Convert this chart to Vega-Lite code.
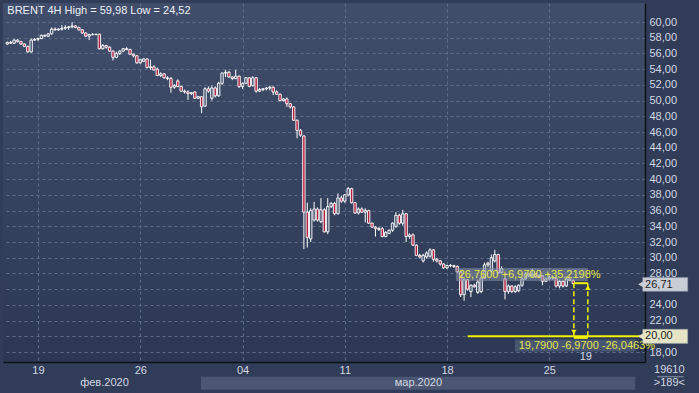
{
  "$schema": "https://vega.github.io/schema/vega-lite/v6.json",
  "width": 642,
  "height": 359,
  "autosize": {"type": "none"},
  "padding": {"left": 3, "top": 3, "right": 54, "bottom": 31},
  "background": "#303c58",
  "config": {
    "view": {"stroke": null, "fill": {"gradient": "linear", "x1": 0, "y1": 0, "x2": 0, "y2": 1, "stops": [{"offset": 0, "color": "#404e6b"}, {"offset": 1, "color": "#2c3853"}]}},
    "axis": {"labelFont": "Liberation Sans Narrow, Arial Narrow, Liberation Sans", "labelFontSize": 11, "labelColor": "#d3d8e2", "labelOverlap": false, "title": null, "ticks": false, "grid": true, "gridColor": "#5f6d8a", "gridDash": [3, 3], "gridWidth": 1, "domainColor": "#0c1018", "domainWidth": 1.5, "zindex": 0},
    "text": {"font": "Liberation Sans Narrow, Arial Narrow, Liberation Sans", "fontSize": 11}
  },
  "layer": [
    {
      "data": {"values": [{"a": 56.8, "b": 184.2, "lo": 13.2, "hi": 14.85}]},
      "mark": {"type": "rect", "fill": "#4a5672", "clip": false},
      "encoding": {
        "x": {"field": "a", "type": "quantitative", "scale": {"domain": [0.2, 185.6], "nice": false, "zero": false}, "axis": {"orient": "bottom", "values": [9, 39, 69, 99, 129, 159], "tickCount": 40, "labelExpr": "datum.value == 9 ? '19' : datum.value == 39 ? '26' : datum.value == 69 ? '04' : datum.value == 99 ? '11' : datum.value == 129 ? '18' : '25'", "labelPadding": 2, "labelBaseline": "top"}},
        "x2": {"field": "b"},
        "y": {"field": "lo", "type": "quantitative", "scale": {"domain": [16.73, 62.42], "nice": false, "zero": false}, "axis": {"orient": "right", "values": [18, 20, 22, 24, 26, 28, 30, 32, 34, 36, 38, 40, 42, 44, 46, 48, 50, 52, 54, 56, 58, 60], "tickCount": 60, "labelExpr": "(datum.value == 26 || datum.value == 20) ? '' : replace(format(datum.value, '.2f'), '.', ',')", "labelPadding": 4, "labelAlign": "left", "labelBaseline": "middle"}},
        "y2": {"field": "hi"}
      }
    },
    {
      "data": {"name": "candles", "values": [
{"i":0,"o":57.2,"h":57.5,"l":57.1,"c":57.4},{"i":1,"o":57.4,"h":57.6,"l":57.2,"c":57.3},{"i":2,"o":57.3,"h":57.8,"l":57.2,"c":57.7},{"i":3,"o":57.7,"h":57.8,"l":57.4,"c":57.5},{"i":4,"o":57.5,"h":57.6,"l":57.1,"c":57.2},{"i":5,"o":57.2,"h":57.3,"l":56.8,"c":56.9},{"i":6,"o":56.9,"h":57.0,"l":56.1,"c":56.2},{"i":7,"o":56.2,"h":57.9,"l":56.1,"c":57.7},{"i":8,"o":57.7,"h":57.95,"l":57.6,"c":57.8},{"i":9,"o":57.8,"h":58.0,"l":57.6,"c":57.9},
{"i":10,"o":57.9,"h":58.4,"l":57.8,"c":58.3},{"i":11,"o":58.3,"h":58.4,"l":58.1,"c":58.2},{"i":12,"o":58.2,"h":58.6,"l":58.1,"c":58.5},{"i":13,"o":58.5,"h":59.3,"l":58.4,"c":59.1},{"i":14,"o":59.1,"h":59.3,"l":58.9,"c":59.0},{"i":15,"o":59.0,"h":59.2,"l":58.9,"c":59.1},{"i":16,"o":59.1,"h":59.6,"l":58.9,"c":59.2},{"i":17,"o":59.2,"h":59.6,"l":59.0,"c":59.3},{"i":18,"o":59.3,"h":59.5,"l":59.0,"c":59.4},{"i":19,"o":59.4,"h":59.98,"l":59.2,"c":59.5},
{"i":20,"o":59.5,"h":59.6,"l":59.2,"c":59.3},{"i":21,"o":59.3,"h":59.4,"l":58.9,"c":59.0},{"i":22,"o":59.0,"h":59.1,"l":58.5,"c":58.6},{"i":23,"o":58.6,"h":58.7,"l":58.1,"c":58.2},{"i":24,"o":58.2,"h":58.5,"l":57.7,"c":58.4},{"i":25,"o":58.4,"h":58.6,"l":58.3,"c":58.4},{"i":26,"o":58.4,"h":58.5,"l":58.3,"c":58.45},{"i":27,"o":58.45,"h":58.5,"l":56.5,"c":56.6},{"i":28,"o":56.6,"h":57.2,"l":56.5,"c":57.0},{"i":29,"o":57.0,"h":57.1,"l":56.6,"c":56.8},
{"i":30,"o":56.8,"h":56.9,"l":56.2,"c":56.3},{"i":31,"o":56.3,"h":56.4,"l":55.1,"c":55.5},{"i":32,"o":55.5,"h":56.2,"l":55.4,"c":56.0},{"i":33,"o":56.0,"h":56.4,"l":55.8,"c":56.3},{"i":34,"o":56.3,"h":56.7,"l":56.2,"c":56.6},{"i":35,"o":56.6,"h":56.8,"l":56.4,"c":56.5},{"i":36,"o":56.5,"h":56.6,"l":55.8,"c":55.9},{"i":37,"o":55.9,"h":56.0,"l":55.5,"c":55.7},{"i":38,"o":55.7,"h":55.8,"l":54.7,"c":54.8},{"i":39,"o":54.8,"h":55.3,"l":54.7,"c":55.2},
{"i":40,"o":55.0,"h":55.4,"l":54.9,"c":55.3},{"i":41,"o":55.3,"h":55.4,"l":54.1,"c":54.2},{"i":42,"o":54.2,"h":55.2,"l":53.9,"c":54.3},{"i":43,"o":54.3,"h":54.5,"l":53.8,"c":53.9},{"i":44,"o":54.0,"h":54.2,"l":53.1,"c":53.2},{"i":45,"o":53.2,"h":53.6,"l":53.0,"c":53.4},{"i":46,"o":53.4,"h":53.5,"l":52.8,"c":52.9},{"i":47,"o":52.9,"h":53.1,"l":52.6,"c":52.8},{"i":48,"o":52.8,"h":53.0,"l":51.0,"c":51.7},{"i":49,"o":51.7,"h":52.1,"l":51.5,"c":51.9},
{"i":50,"o":52.5,"h":52.7,"l":51.7,"c":51.8},{"i":51,"o":51.8,"h":51.9,"l":51.1,"c":51.2},{"i":52,"o":51.2,"h":51.4,"l":50.9,"c":51.1},{"i":53,"o":51.1,"h":51.3,"l":50.1,"c":50.9},{"i":54,"o":50.9,"h":51.1,"l":50.7,"c":51.0},{"i":55,"o":51.1,"h":51.2,"l":50.2,"c":50.3},{"i":56,"o":50.3,"h":50.6,"l":50.2,"c":50.5},{"i":57,"o":50.5,"h":50.6,"l":48.4,"c":49.2},{"i":58,"o":49.3,"h":51.7,"l":49.2,"c":51.5},{"i":59,"o":51.5,"h":51.8,"l":51.0,"c":51.2},
{"i":60,"o":50.3,"h":51.9,"l":50.0,"c":51.6},{"i":61,"o":51.6,"h":51.8,"l":50.4,"c":50.6},{"i":62,"o":50.6,"h":52.4,"l":50.5,"c":52.2},{"i":63,"o":52.2,"h":53.6,"l":52.0,"c":53.5},{"i":64,"o":53.5,"h":53.9,"l":53.0,"c":53.6},{"i":65,"o":53.6,"h":53.8,"l":52.9,"c":53.0},{"i":66,"o":53.0,"h":53.1,"l":52.6,"c":52.8},{"i":67,"o":52.8,"h":53.9,"l":52.7,"c":53.1},{"i":68,"o":53.1,"h":53.2,"l":51.6,"c":51.8},{"i":69,"o":51.8,"h":52.3,"l":51.5,"c":52.2},
{"i":70,"o":52.2,"h":53.0,"l":52.1,"c":52.9},{"i":71,"o":52.9,"h":53.0,"l":51.7,"c":51.8},{"i":72,"o":51.9,"h":53.1,"l":51.8,"c":52.9},{"i":73,"o":52.9,"h":53.0,"l":51.0,"c":51.2},{"i":74,"o":51.2,"h":51.6,"l":51.1,"c":51.4},{"i":75,"o":51.4,"h":51.6,"l":51.2,"c":51.5},{"i":76,"o":51.5,"h":51.7,"l":51.3,"c":51.6},{"i":77,"o":51.6,"h":51.9,"l":51.3,"c":51.7},{"i":78,"o":51.7,"h":51.8,"l":50.7,"c":51.1},{"i":79,"o":51.1,"h":51.3,"l":50.7,"c":50.8},
{"i":80,"o":50.8,"h":50.9,"l":49.9,"c":50.0},{"i":81,"o":50.0,"h":50.3,"l":49.9,"c":50.2},{"i":82,"o":50.2,"h":50.4,"l":49.2,"c":49.6},{"i":83,"o":49.6,"h":49.7,"l":49.0,"c":49.2},{"i":84,"o":49.2,"h":49.3,"l":47.4,"c":47.5},{"i":85,"o":47.5,"h":47.6,"l":45.2,"c":46.2},{"i":86,"o":46.2,"h":46.4,"l":45.4,"c":45.6},{"i":87,"o":45.5,"h":45.6,"l":31.1,"c":35.8},{"i":88,"o":35.8,"h":37.0,"l":31.3,"c":32.6},{"i":89,"o":32.4,"h":36.3,"l":32.0,"c":36.0},
{"i":90,"o":34.8,"h":37.1,"l":34.6,"c":36.2},{"i":91,"o":36.2,"h":36.4,"l":34.6,"c":34.8},{"i":92,"o":34.6,"h":37.6,"l":34.4,"c":36.1},{"i":93,"o":36.1,"h":36.3,"l":33.2,"c":33.3},{"i":94,"o":33.3,"h":37.6,"l":33.0,"c":36.5},{"i":95,"o":36.5,"h":37.1,"l":36.3,"c":36.9},{"i":96,"o":36.9,"h":37.1,"l":35.4,"c":35.6},{"i":97,"o":35.6,"h":38.2,"l":35.5,"c":37.6},{"i":98,"o":37.6,"h":37.9,"l":37.0,"c":37.2},{"i":99,"o":37.2,"h":38.1,"l":37.0,"c":38.0},
{"i":100,"o":38.0,"h":39.0,"l":37.8,"c":38.8},{"i":101,"o":38.8,"h":38.9,"l":36.9,"c":37.0},{"i":102,"o":37.0,"h":37.1,"l":35.6,"c":35.7},{"i":103,"o":35.7,"h":36.4,"l":35.5,"c":36.2},{"i":104,"o":36.2,"h":36.4,"l":35.7,"c":35.8},{"i":105,"o":35.8,"h":36.3,"l":34.5,"c":36.0},{"i":106,"o":36.0,"h":36.1,"l":34.3,"c":34.4},{"i":107,"o":34.4,"h":34.5,"l":33.8,"c":33.9},{"i":108,"o":33.9,"h":34.0,"l":32.7,"c":33.7},{"i":109,"o":33.7,"h":33.9,"l":33.4,"c":33.6},
{"i":110,"o":33.7,"h":33.9,"l":32.6,"c":32.7},{"i":111,"o":32.7,"h":33.4,"l":32.6,"c":33.2},{"i":112,"o":33.1,"h":33.6,"l":33.0,"c":33.5},{"i":113,"o":33.5,"h":34.5,"l":33.3,"c":34.4},{"i":114,"o":34.0,"h":35.8,"l":33.8,"c":35.4},{"i":115,"o":35.4,"h":35.6,"l":34.2,"c":34.4},{"i":116,"o":34.4,"h":36.1,"l":34.1,"c":35.6},{"i":117,"o":35.6,"h":35.7,"l":32.0,"c":32.7},{"i":118,"o":32.7,"h":33.1,"l":32.4,"c":32.9},{"i":119,"o":32.9,"h":33.1,"l":31.5,"c":31.6},
{"i":120,"o":31.6,"h":31.7,"l":30.2,"c":30.3},{"i":121,"o":30.3,"h":30.5,"l":29.9,"c":30.1},{"i":122,"o":29.6,"h":30.5,"l":29.4,"c":30.3},{"i":123,"o":30.1,"h":30.8,"l":29.9,"c":30.6},{"i":124,"o":30.2,"h":31.2,"l":30.0,"c":31.0},{"i":125,"o":31.0,"h":31.1,"l":29.5,"c":29.8},{"i":126,"o":29.8,"h":30.0,"l":29.4,"c":29.6},{"i":127,"o":29.6,"h":29.7,"l":29.0,"c":29.2},{"i":128,"o":29.2,"h":29.3,"l":28.6,"c":28.7},{"i":129,"o":28.7,"h":29.1,"l":28.6,"c":29.0},
{"i":130,"o":29.0,"h":29.2,"l":28.8,"c":29.0},{"i":131,"o":29.0,"h":29.1,"l":28.7,"c":28.9},{"i":132,"o":28.9,"h":29.0,"l":28.1,"c":28.2},{"i":133,"o":28.2,"h":28.3,"l":25.0,"c":25.3},{"i":134,"o":25.3,"h":27.4,"l":24.52,"c":27.2},{"i":135,"o":27.2,"h":27.3,"l":25.8,"c":26.0},{"i":136,"o":25.7,"h":26.6,"l":25.0,"c":26.5},{"i":137,"o":26.5,"h":26.7,"l":26.2,"c":26.3},{"i":138,"o":25.6,"h":27.2,"l":25.4,"c":26.9},{"i":139,"o":25.7,"h":27.6,"l":25.5,"c":27.4},
{"i":140,"o":27.4,"h":29.4,"l":27.3,"c":29.1},{"i":141,"o":29.1,"h":29.5,"l":28.8,"c":29.3},{"i":142,"o":28.3,"h":30.4,"l":28.1,"c":30.0},{"i":143,"o":29.6,"h":31.0,"l":29.4,"c":30.4},{"i":144,"o":30.4,"h":30.5,"l":28.0,"c":28.1},{"i":145,"o":28.1,"h":28.9,"l":28.0,"c":28.6},{"i":146,"o":27.3,"h":27.6,"l":24.7,"c":25.7},{"i":147,"o":25.7,"h":26.6,"l":25.4,"c":26.4},{"i":148,"o":26.4,"h":26.5,"l":25.5,"c":25.7},{"i":149,"o":25.7,"h":26.5,"l":25.5,"c":26.3},
{"i":150,"o":25.8,"h":26.6,"l":25.6,"c":26.5},{"i":151,"o":26.5,"h":27.5,"l":26.3,"c":27.3},{"i":152,"o":27.3,"h":28.2,"l":27.2,"c":27.9},{"i":153,"o":27.9,"h":28.1,"l":27.5,"c":27.7},{"i":154,"o":27.7,"h":28.6,"l":27.5,"c":27.9},{"i":155,"o":27.9,"h":28.0,"l":27.4,"c":27.6},{"i":156,"o":27.6,"h":27.9,"l":27.4,"c":27.7},{"i":157,"o":27.7,"h":27.8,"l":26.5,"c":27.0},{"i":158,"o":27.0,"h":27.5,"l":26.9,"c":27.3},{"i":159,"o":27.3,"h":27.7,"l":27.2,"c":27.5},
{"i":160,"o":27.5,"h":27.7,"l":27.2,"c":27.4},{"i":161,"o":27.4,"h":27.5,"l":26.2,"c":26.4},{"i":162,"o":26.4,"h":27.2,"l":26.1,"c":27.0},{"i":163,"o":27.0,"h":27.1,"l":26.2,"c":26.4},{"i":164,"o":26.4,"h":27.6,"l":26.3,"c":27.3},{"i":165,"o":27.3,"h":27.6,"l":27.0,"c":27.1},{"i":166,"o":27.1,"h":27.3,"l":26.6,"c":26.71}
      ]},
      "mark": {"type": "rule", "color": "#ffffff", "strokeWidth": 1},
      "encoding": {
        "x": {"field": "i", "type": "quantitative", "scale": {"domain": [0.2, 185.6], "nice": false, "zero": false}},
        "y": {"field": "l", "type": "quantitative", "scale": {"domain": [16.73, 62.42], "nice": false, "zero": false}},
        "y2": {"field": "h"}
      }
    },
    {
      "data": {"name": "candles"},
      "mark": {"type": "bar", "width": 2.4, "stroke": "#ffffff", "strokeWidth": 0.9},
      "encoding": {
        "x": {"field": "i", "type": "quantitative", "scale": {"domain": [0.2, 185.6], "nice": false, "zero": false}},
        "y": {"field": "o", "type": "quantitative", "scale": {"domain": [16.73, 62.42], "nice": false, "zero": false}},
        "y2": {"field": "c"},
        "fill": {"condition": {"test": "datum.c < datum.o", "value": "#b3203e"}, "value": "#46536f"}
      }
    },
    {
      "data": {"values": [{"a": 131.6, "b": 170.3, "lo": 27.04, "hi": 28.69}]},
      "mark": {"type": "rect", "fill": "#8a95aa", "opacity": 0.55},
      "encoding": {
        "x": {"field": "a", "type": "quantitative", "scale": {"domain": [0.2, 185.6], "nice": false, "zero": false}},
        "x2": {"field": "b"},
        "y": {"field": "lo", "type": "quantitative", "scale": {"domain": [16.73, 62.42], "nice": false, "zero": false}},
        "y2": {"field": "hi"}
      }
    },
    {
      "data": {"values": [{"a": 148.9, "b": 184.2, "lo": 18.07, "hi": 19.6}]},
      "mark": {"type": "rect", "fill": "#4d5a76", "opacity": 0.9},
      "encoding": {
        "x": {"field": "a", "type": "quantitative", "scale": {"domain": [0.2, 185.6], "nice": false, "zero": false}},
        "x2": {"field": "b"},
        "y": {"field": "lo", "type": "quantitative", "scale": {"domain": [16.73, 62.42], "nice": false, "zero": false}},
        "y2": {"field": "hi"}
      }
    },
    {
      "data": {"values": [{"a": 135.05, "b": 186.3, "v": 20.0}, {"a": 166.2, "b": 170.3, "v": 26.76}, {"a": 166.2, "b": 170.3, "v": 19.8}]},
      "mark": {"type": "rule", "color": "#f2f200", "strokeWidth": 2, "clip": false},
      "encoding": {
        "x": {"field": "a", "type": "quantitative", "scale": {"domain": [0.2, 185.6], "nice": false, "zero": false}},
        "x2": {"field": "b"},
        "y": {"field": "v", "type": "quantitative", "scale": {"domain": [16.73, 62.42], "nice": false, "zero": false}}
      }
    },
    {
      "data": {"values": [{"i": 166.2, "lo": 20.0, "hi": 26.76}, {"i": 170.3, "lo": 20.0, "hi": 26.76}]},
      "mark": {"type": "rule", "color": "#f2f200", "strokeWidth": 1.5, "strokeDash": [5, 3]},
      "encoding": {
        "x": {"field": "i", "type": "quantitative", "scale": {"domain": [0.2, 185.6], "nice": false, "zero": false}},
        "y": {"field": "lo", "type": "quantitative", "scale": {"domain": [16.73, 62.42], "nice": false, "zero": false}},
        "y2": {"field": "hi"}
      }
    },
    {
      "data": {"values": [{"i": 166.2, "v": 20.55, "dir": "down"}, {"i": 170.3, "v": 26.2, "dir": "up"}]},
      "mark": {"type": "point", "filled": true, "color": "#f2f200", "size": 28, "opacity": 1},
      "encoding": {
        "x": {"field": "i", "type": "quantitative", "scale": {"domain": [0.2, 185.6], "nice": false, "zero": false}},
        "y": {"field": "v", "type": "quantitative", "scale": {"domain": [16.73, 62.42], "nice": false, "zero": false}},
        "shape": {"field": "dir", "type": "nominal", "scale": {"domain": ["down", "up"], "range": ["triangle-down", "triangle-up"]}, "legend": null}
      }
    },
    {
      "data": {"values": [{"t": "26,7600  +6,9700  +35,2198%", "i": 132.4, "v": 27.85}, {"t": "19,7900  -6,9700  -26,0463%", "i": 150.0, "v": 18.8}]},
      "mark": {"type": "text", "align": "left", "baseline": "middle", "color": "#e6e64a"},
      "encoding": {
        "x": {"field": "i", "type": "quantitative", "scale": {"domain": [0.2, 185.6], "nice": false, "zero": false}},
        "y": {"field": "v", "type": "quantitative", "scale": {"domain": [16.73, 62.42], "nice": false, "zero": false}},
        "text": {"field": "t"}
      }
    },
    {
      "data": {"values": [{"k": "a", "a": 186.4, "b": 199.6, "lo": 25.72, "hi": 27.5}, {"k": "b", "a": 186.4, "b": 199.6, "lo": 19.1, "hi": 20.9}]},
      "mark": {"type": "rect", "clip": false, "stroke": "#8c93a0", "strokeWidth": 0.5},
      "encoding": {
        "x": {"field": "a", "type": "quantitative", "scale": {"domain": [0.2, 185.6], "nice": false, "zero": false}},
        "x2": {"field": "b"},
        "y": {"field": "lo", "type": "quantitative", "scale": {"domain": [16.73, 62.42], "nice": false, "zero": false}},
        "y2": {"field": "hi"},
        "fill": {"field": "k", "type": "nominal", "scale": {"domain": ["a", "b"], "range": ["#c9cdd5", "#e6e6c6"]}, "legend": null}
      }
    },
    {
      "data": {"values": [{"k": "a", "i": 185.9, "v": 26.61}, {"k": "b", "i": 185.9, "v": 20.0}]},
      "mark": {"type": "point", "shape": "triangle-left", "filled": true, "size": 45, "opacity": 1, "clip": false},
      "encoding": {
        "x": {"field": "i", "type": "quantitative", "scale": {"domain": [0.2, 185.6], "nice": false, "zero": false}},
        "y": {"field": "v", "type": "quantitative", "scale": {"domain": [16.73, 62.42], "nice": false, "zero": false}},
        "color": {"field": "k", "type": "nominal", "scale": {"domain": ["a", "b"], "range": ["#c9cdd5", "#e6e6c6"]}, "legend": null}
      }
    },
    {
      "data": {"values": [{"t": "26,71", "i": 187.1, "v": 26.55}, {"t": "20,00", "i": 187.1, "v": 20.0}]},
      "mark": {"type": "text", "align": "left", "baseline": "middle", "color": "#1c1c24", "clip": false},
      "encoding": {
        "x": {"field": "i", "type": "quantitative", "scale": {"domain": [0.2, 185.6], "nice": false, "zero": false}},
        "y": {"field": "v", "type": "quantitative", "scale": {"domain": [16.73, 62.42], "nice": false, "zero": false}},
        "text": {"field": "t"}
      }
    },
    {
      "data": {"values": [{"t": "BRENT 4H High = 59,98 Low = 24,52", "i": 0.0, "v": 61.35}]},
      "mark": {"type": "text", "align": "left", "baseline": "middle", "color": "#eef1f6"},
      "encoding": {
        "x": {"field": "i", "type": "quantitative", "scale": {"domain": [0.2, 185.6], "nice": false, "zero": false}},
        "y": {"field": "v", "type": "quantitative", "scale": {"domain": [16.73, 62.42], "nice": false, "zero": false}},
        "text": {"field": "t"}
      }
    },
    {
      "data": {"values": [{"t": "фев.2020", "i": 28.5, "v": 14.0}, {"t": "мар.2020", "i": 120.6, "v": 14.0}, {"t": "19610", "i": 194.2, "v": 15.65}, {"t": ">189<", "i": 194.2, "v": 14.0}, {"t": "19", "i": 169.7, "v": 17.35}]},
      "mark": {"type": "text", "align": "center", "baseline": "middle", "color": "#d3d8e2", "clip": false},
      "encoding": {
        "x": {"field": "i", "type": "quantitative", "scale": {"domain": [0.2, 185.6], "nice": false, "zero": false}},
        "y": {"field": "v", "type": "quantitative", "scale": {"domain": [16.73, 62.42], "nice": false, "zero": false}},
        "text": {"field": "t"}
      }
    },
    {
      "data": {"values": [{"a": 190.6, "b": 198.4, "v": 14.85}]},
      "mark": {"type": "rule", "color": "#8a94a8", "strokeWidth": 1, "clip": false},
      "encoding": {
        "x": {"field": "a", "type": "quantitative", "scale": {"domain": [0.2, 185.6], "nice": false, "zero": false}},
        "x2": {"field": "b"},
        "y": {"field": "v", "type": "quantitative", "scale": {"domain": [16.73, 62.42], "nice": false, "zero": false}}
      }
    }
  ]
}
